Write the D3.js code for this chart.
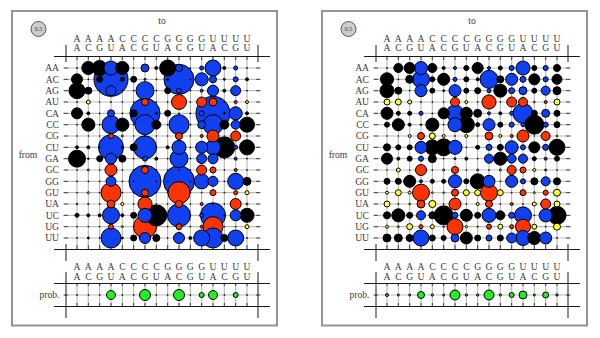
<!DOCTYPE html>
<html><head><meta charset="utf-8">
<script src="https://cdn.jsdelivr.net/npm/d3@7/dist/d3.min.js"></script>
<style>html,body{margin:0;padding:0;background:#fff}svg{display:block}text{font-family:"Liberation Serif",serif;fill:#3a3a3a}</style>
</head><body><svg id="c" width="600" height="338"></svg>
<script>
const pairs = ["AA","AC","AG","AU","CA","CC","CG","CU","GA","GC","GG","GU","UA","UC","UG","UU"];
const basePaired = ["AU","CG","GC","GU","UA","UG"];
const legendValue = 0.5;

const leftMatrix = [
[.002,.38,.5,.44,.38,.002,.14,.02,.57,.11,.002,.036,.57,.02,.036,.002],
[.27,.002,.08,2.57,.036,.08,.009,.002,.009,2,.002,.38,.11,.009,.056,.02],
[.57,.11,.002,.22,.002,.002,.72,.002,.08,.056,.002,.02,.27,.02,.22,.002],
[.002,.036,.001,.002,.002,.002,.11,.002,.002,.5,.002,.22,.14,.002,.02,.02],
[.27,.02,.002,.11,.002,.11,2,.009,.08,.002,.002,.056,2.57,.009,.38,.02],
[.002,.38,.002,.72,.38,.002,.89,.18,.002,.89,.002,.14,.89,.18,.18,.5],
[.001,.001,.001,.056,.009,.001,.001,.001,.001,.11,.002,.02,.32,.001,.22,.001],
[.02,.02,.002,1.39,.009,.11,1.18,.002,.02,.44,.002,.32,.5,.98,.036,.5],
[.64,.006,.08,.27,.11,.002,.056,.02,.002,.72,.002,.22,.22,.002,.02,.002],
[.002,.009,.002,.32,.002,.002,.11,.002,.002,.002,.002,.22,.08,.002,.02,.002],
[.002,.002,.002,.22,.002,.002,2.28,.002,.002,2.14,.002,.5,.22,.002,.57,.14],
[.002,.009,.002,.89,.002,.002,.11,.002,.002,1.08,.002,.002,.08,.002,.036,.036],
[.006,.004,.002,.14,.02,.002,.44,.002,.002,.11,.002,.02,.002,.002,.27,.009],
[.036,.02,.02,.64,.02,.08,.44,.98,.002,1.18,.002,.036,1.39,.002,.27,.44],
[.002,.002,.002,.056,.009,.002,1.18,.002,.002,.08,.002,.02,.89,.002,.002,.036],
[.002,.009,.002,.89,.009,.08,.27,.11,.002,.27,.02,.57,.89,.11,.57,.002]
];
const leftProb = [.002,.002,.002,.18,.002,.002,.27,.002,.002,.27,.002,.056,.18,.002,.056,.002];

const rightMatrix = [
[.002,.18,.27,.38,.18,.02,.02,.056,.27,.02,.036,.056,.44,.056,.056,.11],
[.38,.002,.14,.64,.056,.32,.036,.056,.02,.72,.11,.32,.08,.27,.056,.22],
[.44,.11,.002,.32,.056,.009,.32,.056,.08,.036,.38,.08,.14,.056,.18,.14],
[.08,.08,.036,.002,.002,.002,.18,.02,.002,.44,.002,.22,.18,.006,.02,.08],
[.32,.036,.036,.036,.002,.27,.64,.32,.14,.02,.02,.036,.89,.08,.14,.08],
[.056,.32,.02,.006,.38,.002,.44,.57,.036,.32,.056,.056,.036,.8,.056,.08],
[.001,.001,.02,.11,.08,.02,.002,.02,.001,.14,.02,.02,.32,.001,.18,.006],
[.11,.056,.056,.32,.5,.64,.44,.002,.036,.08,.08,.38,.056,.27,.08,.57],
[.27,.02,.056,.056,.14,.002,.009,.02,.002,.18,.38,.18,.18,.036,.02,.056],
[.001,.036,.001,.27,.002,.009,.11,.002,.009,.002,.009,.18,.08,.02,.009,.002],
[.08,.08,.32,.02,.036,.036,.38,.056,.5,.32,.002,.32,.056,.11,.18,.11],
[.02,.08,.02,.64,.006,.006,.11,.08,.08,.64,.08,.002,.08,.009,.056,.11],
[.08,.003,.006,.14,.11,.002,.32,.002,.02,.11,.002,.02,.002,.036,.22,.08],
[.11,.38,.08,.18,.11,.8,.08,.32,.08,.44,.18,.08,.64,.002,.38,.72],
[.02,.009,.08,.036,.036,.006,.57,.013,.004,.056,.056,.036,.5,.056,.002,.11],
[.14,.14,.11,.57,.08,.056,.14,.32,.08,.08,.08,.22,.5,.38,.32,.002]
];
const rightProb = [.02,.009,.009,.11,.012,.009,.22,.012,.012,.22,.012,.056,.14,.009,.08,.012];

const panelOffsets = [0, 310];
const x = d3.scalePoint().domain(pairs).range([77, 247]);
const y = d3.scalePoint().domain(pairs).range([68, 238]);
const r = d3.scaleSqrt().domain([0, legendValue]).range([0, 7.5]);
const isPaired = p => basePaired.includes(p);
const fillFor = (from, to) => isPaired(from)
  ? (isPaired(to) ? "#ff3300" : "#ffff33")
  : (isPaired(to) ? "#1040f0" : "#000");

const svg = d3.select("#c");

function line(g, x1, y1, x2, y2, color, w) {
  g.append("line").attr("x1", x1).attr("y1", y1).attr("x2", x2).attr("y2", y2)
    .attr("stroke", color).attr("stroke-width", w);
}

function panel(offset, matrix, prob) {
  const g = svg.append("g").attr("transform", `translate(${offset},0)`);
  g.append("rect").attr("x", 12).attr("y", 11).attr("width", 265).attr("height", 314.5)
    .attr("fill", "#fff").attr("stroke", "#949494").attr("stroke-width", 2);

  // grid
  pairs.forEach(p => {
    line(g, x(p), 56, x(p), 249, "#bbb", 1.2);
    line(g, x(p), 283, x(p), 306, "#bbb", 1.2);
    line(g, 63, y(p), 261, y(p), "#bbb", 1.2);
    line(g, x(p), 56, x(p), 60, "#222", 0.8);
    line(g, x(p), 245, x(p), 249, "#222", 0.8);
    line(g, x(p), 283, x(p), 286, "#222", 0.8);
    line(g, x(p), 303, x(p), 306, "#222", 0.8);
    line(g, 64, y(p), 68, y(p), "#222", 0.8);
    line(g, 256, y(p), 260, y(p), "#222", 0.8);
  });
  const probY = 295;
  line(g, 63, probY, 261, probY, "#bbb", 1.2);
  line(g, 64, probY, 68, probY, "#222", 0.8);
  line(g, 256, probY, 260, probY, "#222", 0.8);

  // frame lines
  line(g, 54, 56.5, 270, 56.5, "#000", 0.9);
  line(g, 54, 249.5, 270, 249.5, "#000", 0.9);
  line(g, 54, 283.5, 270, 283.5, "#000", 0.9);
  line(g, 54, 306.5, 270, 306.5, "#000", 0.9);
  [66, 258].forEach(v => {
    line(g, v, 45, v, 62, "#000", 0.9);
    line(g, v, 244, v, 261, "#000", 0.9);
    line(g, v, 272, v, 318, "#000", 0.9);
  });

  // labels
  const txt = (s, tx, ty, anchor, size) => g.append("text").text(s).attr("x", tx).attr("y", ty)
    .attr("text-anchor", anchor).attr("font-size", size);
  pairs.forEach(p => {
    txt(p[0], x(p), 41.6, "middle", 9.6);
    txt(p[1], x(p), 51.2, "middle", 9.6);
    txt(p[0], x(p), 270.2, "middle", 9.6);
    txt(p[1], x(p), 279.8, "middle", 9.6);
    txt(p, 59, y(p) + 3.3, "end", 9.6);
  });
  txt("to", 162, 23.5, "middle", 9.6);
  txt("from", 28, 157.5, "middle", 9.6);
  txt("prob.", 59.5, 298, "end", 9.6);

  // legend
  g.append("circle").attr("cx", 38.5).attr("cy", 29).attr("r", r(legendValue))
    .attr("fill", "#ccc").attr("stroke", "#333").attr("stroke-width", 0.8);
  txt(String(legendValue), 38.5, 31, "middle", 6);

  // bubbles: largest first, so the small ones stay visible
  const cells = [];
  pairs.forEach((from, i) => pairs.forEach((to, j) => cells.push({from, to, v: matrix[i][j]})));
  cells.sort((a, b) => b.v - a.v);
  g.selectAll("circle.cell").data(cells).join("circle").attr("class", "cell")
    .attr("cx", d => x(d.to)).attr("cy", d => y(d.from)).attr("r", d => r(d.v))
    .attr("fill", d => fillFor(d.from, d.to))
    .attr("stroke", "#000").attr("stroke-width", 1);

  g.selectAll("circle.prob").data(pairs).join("circle").attr("class", "prob")
    .attr("cx", d => x(d)).attr("cy", probY).attr("r", (d, i) => r(prob[i]))
    .attr("fill", "#22ee22").attr("stroke", "#000").attr("stroke-width", 1);
}

panel(panelOffsets[0], leftMatrix, leftProb);
panel(panelOffsets[1], rightMatrix, rightProb);
</script></body></html>
